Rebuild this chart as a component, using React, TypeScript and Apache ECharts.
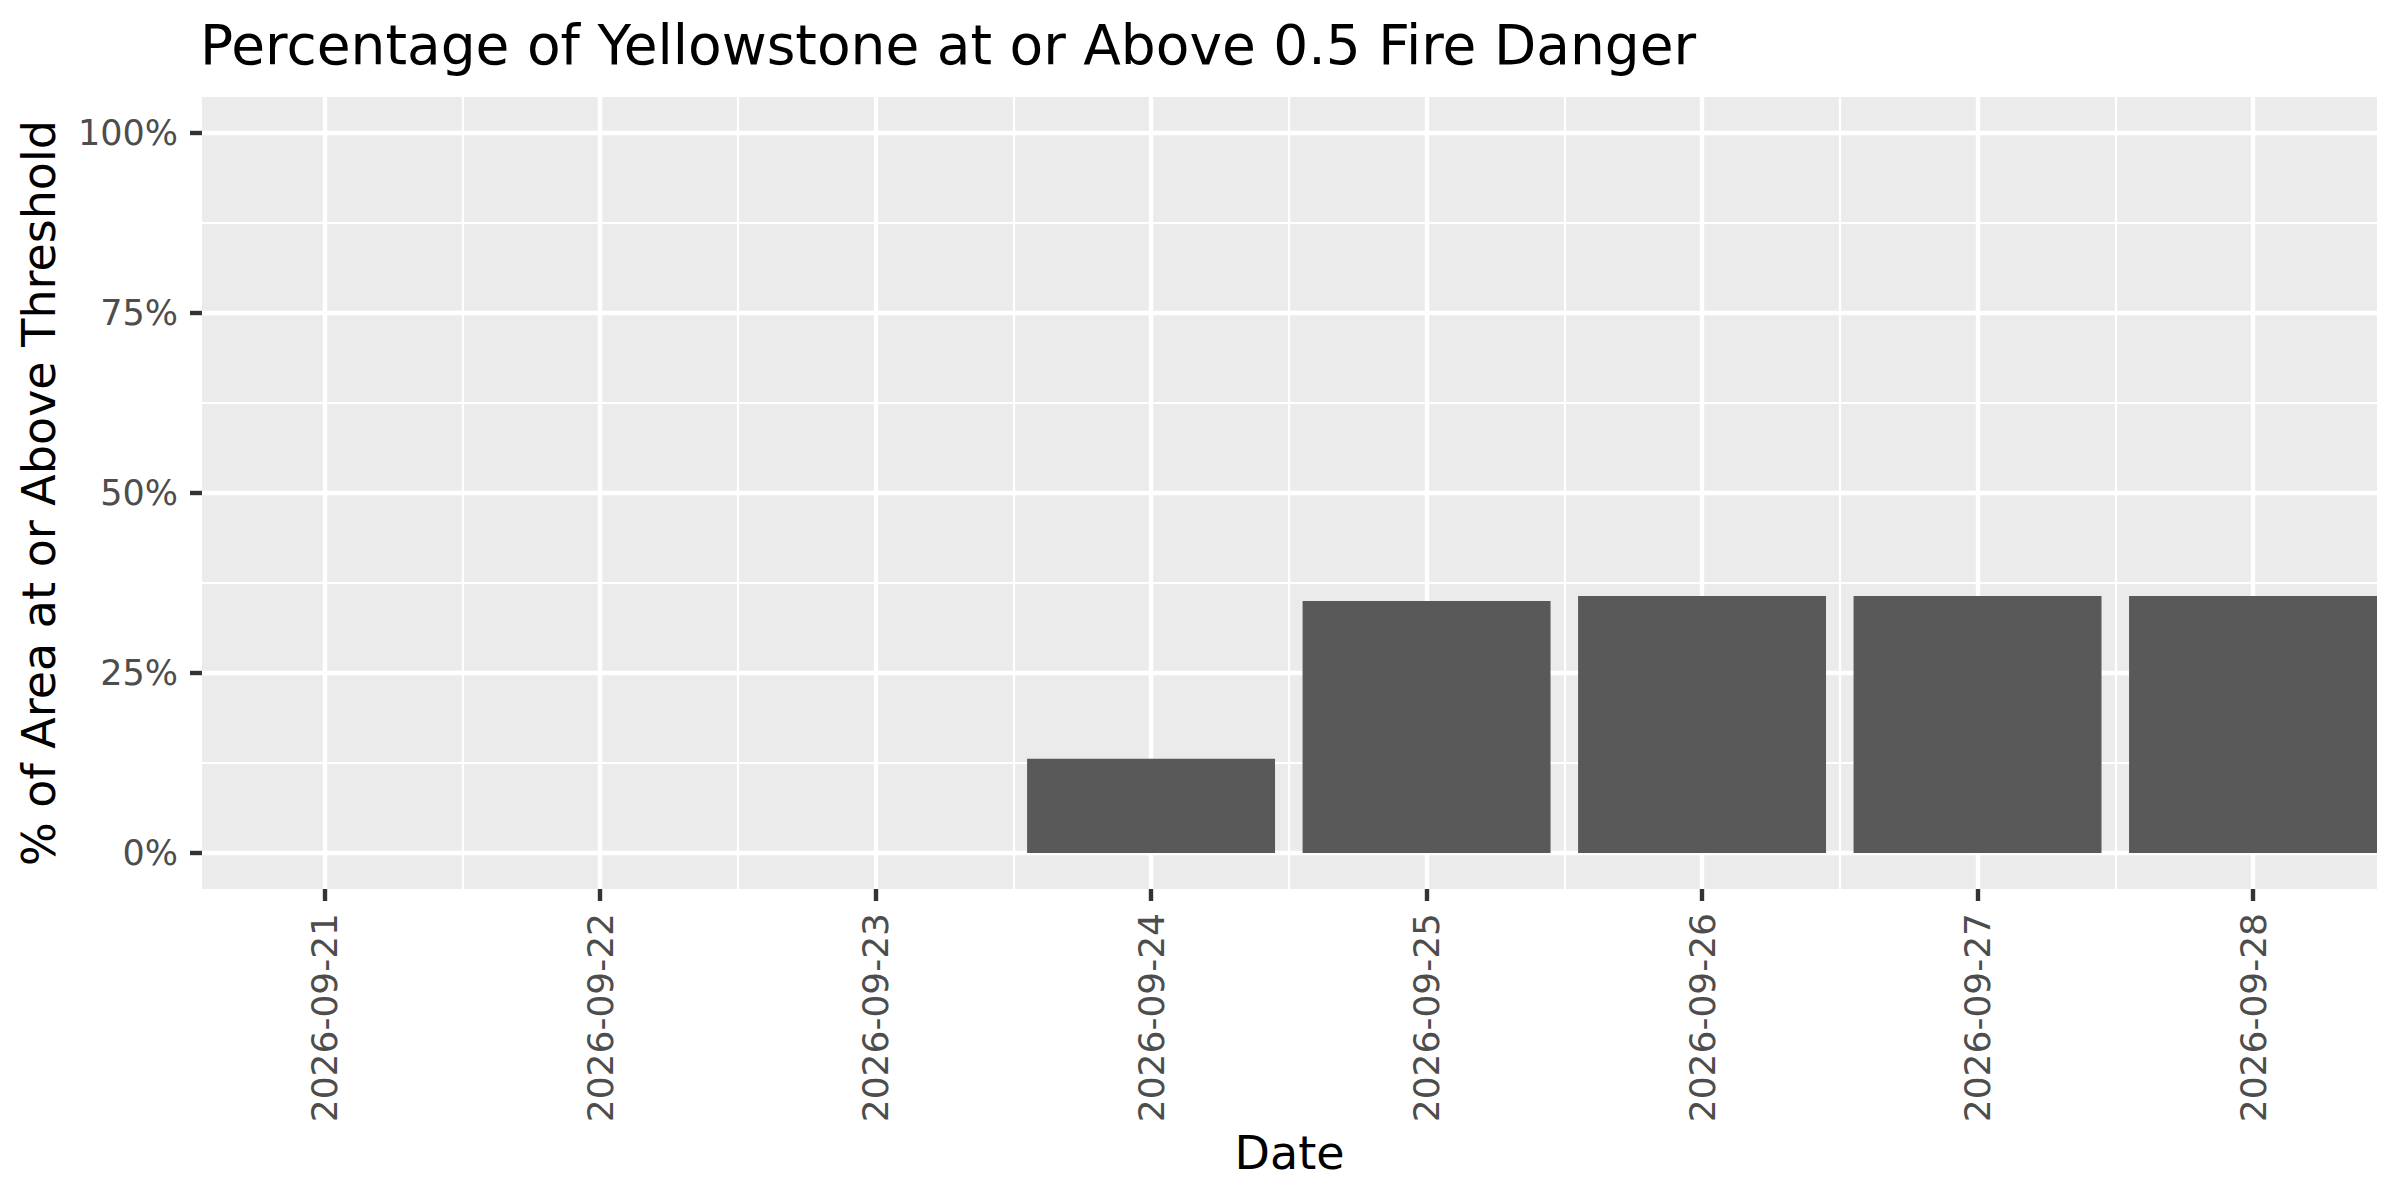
import React, { useEffect, useRef } from 'react';
import * as echarts from 'echarts';

const dates = [
  '2026-09-21',
  '2026-09-22',
  '2026-09-23',
  '2026-09-24',
  '2026-09-25',
  '2026-09-26',
  '2026-09-27',
  '2026-09-28',
];
const percentAbove = [0, 0, 0, 13.1, 35.0, 35.7, 35.7, 35.7];
const yTicks = [0, 25, 50, 75, 100];
const yMinorTicks = [12.5, 37.5, 62.5, 87.5];

const FONT = 'DejaVu Sans';

const App: React.FC = () => {
  const chartRef = useRef<HTMLDivElement>(null);

  useEffect(() => {
    const chart = echarts.init(chartRef.current as HTMLDivElement, null, { renderer: 'svg' });

    const xTicks = dates.map((_, i) => i);
    const xMinorTicks = dates.slice(1).map((_, i) => i + 0.5);

    const hiddenAxisParts = {
      axisLine: { show: false, onZero: false },
      axisLabel: { show: false },
    };

    const option = {
      animation: false,
      textStyle: { fontFamily: FONT },
      title: {
        text: 'Percentage of Yellowstone at or Above 0.5 Fire Danger',
        left: 200,
        top: 17,
        padding: 0,
        textStyle: { fontFamily: FONT, fontSize: 55, fontWeight: 'normal', color: '#000000' },
      },
      grid: {
        left: 202,
        right: 23,
        top: 97,
        bottom: 311,
        show: true,
        backgroundColor: '#EBEBEB',
        borderWidth: 0,
        containLabel: false,
      },
      xAxis: [
        {
          type: 'value',
          min: -0.445,
          max: 7.45,
          name: 'Date',
          nameLocation: 'middle',
          nameGap: 239,
          nameTextStyle: { fontFamily: FONT, fontSize: 46, color: '#000000' },
          axisLine: { show: false, onZero: false },
          axisTick: {
            show: true,
            length: 12,
            customValues: xTicks,
            lineStyle: { color: '#333333', width: 4.4 },
          },
          axisLabel: {
            customValues: xTicks,
            rotate: 90,
            margin: 24,
            fontSize: 36,
            color: '#4D4D4D',
            fontFamily: FONT,
            formatter: (v: number) => dates[Math.round(v)] ?? '',
          },
          splitLine: { show: true, customValues: xTicks, lineStyle: { color: '#FFFFFF', width: 4.4 } },
        },
        {
          type: 'value',
          min: -0.445,
          max: 7.45,
          position: 'bottom',
          ...hiddenAxisParts,
          axisTick: { show: false, customValues: xMinorTicks },
          splitLine: { show: true, customValues: xMinorTicks, lineStyle: { color: '#FFFFFF', width: 2.2 } },
        },
      ],
      yAxis: [
        {
          type: 'value',
          min: -5,
          max: 105,
          name: '% of Area at or Above Threshold',
          nameLocation: 'middle',
          nameGap: 140,
          nameTextStyle: { fontFamily: FONT, fontSize: 46, color: '#000000' },
          axisLine: { show: false, onZero: false },
          axisTick: {
            show: true,
            length: 12,
            customValues: yTicks,
            lineStyle: { color: '#333333', width: 4.4 },
          },
          axisLabel: {
            customValues: yTicks,
            margin: 24,
            fontSize: 35,
            color: '#4D4D4D',
            fontFamily: FONT,
            formatter: '{value}%',
          },
          splitLine: { show: true, customValues: yTicks, lineStyle: { color: '#FFFFFF', width: 4.4 } },
        },
        {
          type: 'value',
          min: -5,
          max: 105,
          position: 'left',
          ...hiddenAxisParts,
          axisTick: { show: false, customValues: yMinorTicks },
          splitLine: { show: true, customValues: yMinorTicks, lineStyle: { color: '#FFFFFF', width: 2.2 } },
        },
      ],
      series: [
        {
          type: 'bar',
          xAxisIndex: 0,
          yAxisIndex: 0,
          barWidth: '90%',
          itemStyle: { color: '#595959' },
          data: percentAbove.map((v, i) => [i, v]),
        },
      ],
    };

    chart.setOption(option);

    return () => {
      chart.dispose();
    };
  }, []);

  return (
    <div
      ref={chartRef}
      style={{ position: 'absolute', left: 0, top: 0, width: '2400px', height: '1200px', background: '#FFFFFF' }}
    ></div>
  );
};

export default App;
